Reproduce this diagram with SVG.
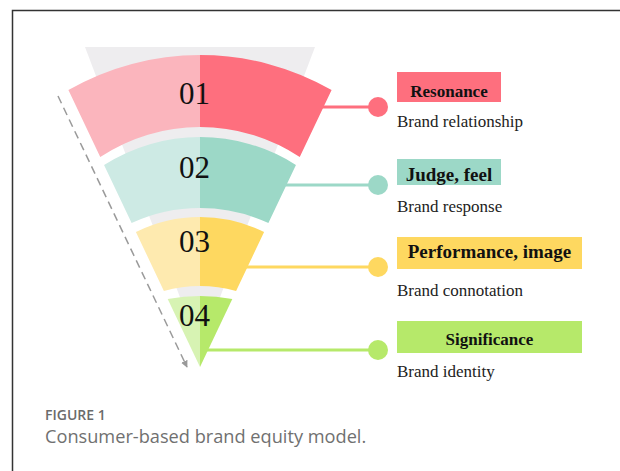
<svg xmlns="http://www.w3.org/2000/svg" width="620" height="471" viewBox="0 0 620 471">
<defs>
<style>
.num{font-family:"Liberation Serif","Times New Roman",serif;font-size:31px;fill:#111;text-anchor:middle}
.lab{font-family:"Liberation Serif","Times New Roman",serif;font-weight:bold;fill:#111;text-anchor:middle}
.sub{font-family:"Liberation Serif","Times New Roman",serif;font-size:17px;fill:#222}
.conn{stroke-width:3;fill:none}
</style>
<marker id="ah" viewBox="0 0 10 10" refX="9" refY="5" markerWidth="7" markerHeight="7" orient="auto" markerUnits="userSpaceOnUse">
<path d="M0,0 L10,5 L0,10 z" fill="#999"/>
</marker>
</defs>
<rect width="620" height="471" fill="#fff"/>
<path d="M12.5,471 V10.5 H620" fill="none" stroke="#333" stroke-width="1.5"/>

<path d="M85,47 H315 L200,350 Z" fill="#eeedef"/>
<line x1="58" y1="96" x2="187" y2="367" stroke="#9a9a9a" stroke-width="1.5" stroke-dasharray="8,5" marker-end="url(#ah)"/>

<g id="connectors">
<line class="conn" x1="318" y1="107" x2="378" y2="107" stroke="#fe6f7e"/>
<circle cx="378" cy="107" r="10" fill="#fe6f7e"/>
<line class="conn" x1="282" y1="185" x2="378" y2="185" stroke="#9cd8c7"/>
<circle cx="378" cy="185" r="10" fill="#9cd8c7"/>
<line class="conn" x1="243" y1="267" x2="378" y2="267" stroke="#fed860"/>
<circle cx="378" cy="267" r="10" fill="#fed860"/>
<line class="conn" x1="204" y1="350" x2="378" y2="350" stroke="#b6e96a"/>
<circle cx="378" cy="350" r="10" fill="#b6e96a"/>
</g>

<g id="band1">
<clipPath id="c1"><path d="M68.4,90 A264.9,264.9 0 0 1 331.6,90 L299.75,157 A180.8,180.8 0 0 0 100.25,157 Z"/></clipPath>
<g clip-path="url(#c1)"><rect x="60" y="50" width="140" height="110" fill="#fbb5bd"/><rect x="200" y="50" width="140" height="110" fill="#fe6f7e"/></g>
<text class="num" x="194.5" y="104">01</text>
</g>
<g id="band2">
<clipPath id="c2"><path d="M104.05,165 A178.4,178.4 0 0 1 295.95,165 L268.4,223 A163.5,163.5 0 0 0 131.6,223 Z"/></clipPath>
<g clip-path="url(#c2)"><rect x="100" y="130" width="100" height="100" fill="#cdeae4"/><rect x="200" y="130" width="100" height="100" fill="#9cd8c7"/></g>
<text class="num" x="194.5" y="178">02</text>
</g>
<g id="band3">
<clipPath id="c3"><path d="M135.9,232 A144.5,144.5 0 0 1 264.1,232 L236.1,291 A132.8,132.8 0 0 0 163.9,291 Z"/></clipPath>
<g clip-path="url(#c3)"><rect x="130" y="210" width="70" height="90" fill="#feeaaf"/><rect x="200" y="210" width="70" height="90" fill="#fed860"/></g>
<text class="num" x="194.5" y="252">03</text>
</g>
<g id="band4">
<clipPath id="c4"><path d="M167.7,299 A175,175 0 0 1 232.3,299 L200,367 Z"/></clipPath>
<g clip-path="url(#c4)"><rect x="160" y="290" width="40" height="80" fill="#d7f3b3"/><rect x="200" y="290" width="40" height="80" fill="#b6e96a"/></g>
<text class="num" x="194.5" y="326">04</text>
</g>

<g id="label1">
<rect x="397" y="72" width="104" height="30" fill="#fe6f7e"/>
<text class="lab" x="449" y="97" font-size="17">Resonance</text>
<text class="sub" x="397" y="127">Brand relationship</text>
</g>
<g id="label2">
<rect x="397" y="159" width="104" height="26" fill="#9cd8c7"/>
<text class="lab" x="449" y="181" font-size="19">Judge, feel</text>
<text class="sub" x="397" y="212">Brand response</text>
</g>
<g id="label3">
<rect x="397" y="237" width="185" height="32" fill="#fed860"/>
<text class="lab" x="489.5" y="258" font-size="19">Performance, image</text>
<text class="sub" x="397" y="296">Brand connotation</text>
</g>
<g id="label4">
<rect x="397" y="321" width="185" height="32" fill="#b6e96a"/>
<text class="lab" x="489.5" y="345" font-size="17">Significance</text>
<text class="sub" x="397" y="377">Brand identity</text>
</g>

<text x="45" y="420" font-family="'Open Sans','Noto Sans',sans-serif" font-size="14" font-weight="600" fill="#6b6b6b">FIGURE 1</text>
<text x="45" y="443" font-family="'Open Sans','Noto Sans',sans-serif" font-size="18.2" fill="#707070">Consumer-based brand equity model.</text>
</svg>
